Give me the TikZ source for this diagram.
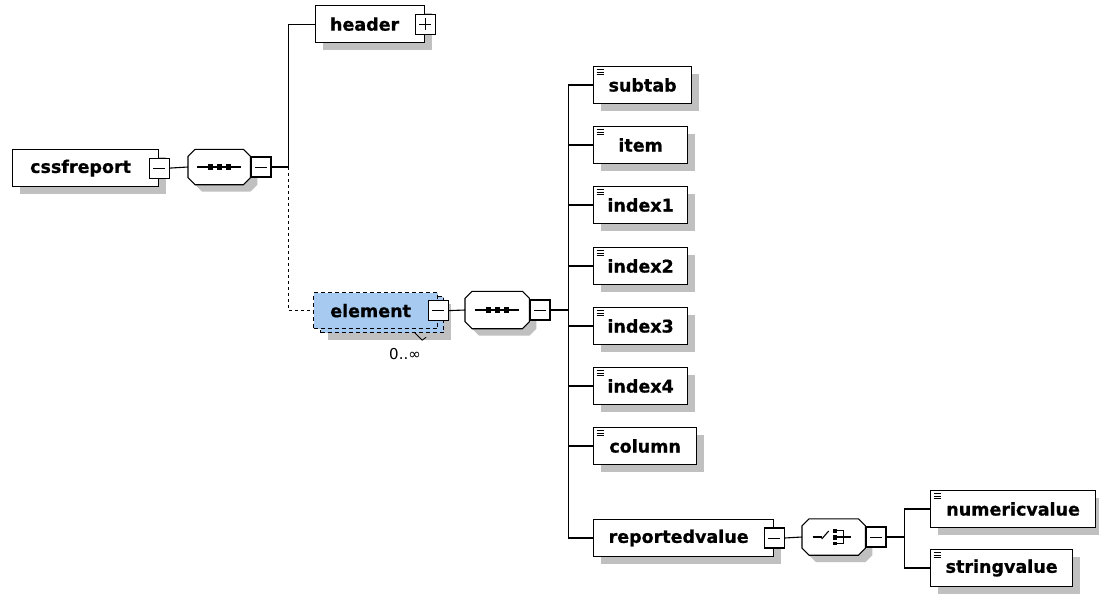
\documentclass[tikz,border=0pt]{standalone}
\usepackage{fontspec}
\usetikzlibrary{shadows}
\newfontfamily\dejavu{DejaVu Sans}
\newfontfamily\boxfnt{DejaVu Sans}[BoldFeatures={FakeBold=0.8}]
\definecolor{shadowgray}{HTML}{C0C0C0}
\definecolor{eblue}{HTML}{A6CAF0}
\tikzset{
  shadowed/.style={drop shadow={shadow xshift=7pt,shadow yshift=-7pt,opacity=1,fill=shadowgray}},
  ebase/.style={draw, fill=white, line width=1.2pt, minimum height=37pt, inner sep=0pt,
    font=\boxfnt\bfseries\fontsize{17.5pt}{20pt}\selectfont},
  ebox/.style={ebase, shadowed},
  leaf/.style={ebox, path picture={
      \foreach \k in {3,5.5,8}
        \draw[line width=0.9pt] ([xshift=3pt,yshift=-\k pt]path picture bounding box.north west) -- ++(7pt,0pt);}},
  minus/.style={draw, fill=white, line width=1.1pt, minimum size=20pt, inner sep=0pt,
    path picture={\draw[line width=1pt] ([xshift=4pt]path picture bounding box.west) -- ([xshift=-4pt]path picture bounding box.east);}},
  plus/.style={draw, fill=white, line width=1.1pt, minimum size=20pt, inner sep=0pt,
    path picture={\draw[line width=1pt] ([xshift=4pt]path picture bounding box.west) -- ([xshift=-4pt]path picture bounding box.east);
      \draw[line width=1pt] ([yshift=-4pt]path picture bounding box.north) -- ([yshift=4pt]path picture bounding box.south);}},
  octframe/.style={rectangle, draw=none, inner sep=0pt},
  conn/.style={line width=1.1pt},
  icon/.style={line width=1.1pt},
  edash/.style={dash pattern=on 4pt off 3pt},
}
% octagon outline + shadow around an (invisible) rectangular node
\newcommand\octpath[1]{([xshift=7pt]#1.north west) -- ([xshift=-7pt]#1.north east) -- ([yshift=-7pt]#1.north east) -- ([yshift=7pt]#1.south east) -- ([xshift=-7pt]#1.south east) -- ([xshift=7pt]#1.south west) -- ([yshift=7pt]#1.south west) -- ([yshift=-7pt]#1.north west) -- cycle}
\newcommand\drawoct[1]{%
  \fill[shadowgray, transform canvas={shift={(7pt,-7pt)}}] \octpath{#1};
  \draw[fill=white, line width=1.1pt] \octpath{#1};}
\newcommand\seqicon[1]{%
  \draw[icon] ([xshift=-22pt]#1.center) -- ([xshift=22pt]#1.center);
  \foreach \dx in {-9,0,9}
    \fill ([shift={({\dx pt-2.5pt},-3pt)}]#1.center) rectangle ([shift={({\dx pt+2.5pt},3pt)}]#1.center);}
\newcommand\choiceicon[1]{%
  \draw[icon] ([xshift=-21pt]#1.center) -- ([xshift=-12pt]#1.center);
  \draw[icon] ([shift={(-12pt,-2pt)}]#1.center) -- ([shift={(-5pt,6pt)}]#1.center);
  \fill ([shift={(-0.5pt,4.5pt)}]#1.center) rectangle ([shift={(3pt,8pt)}]#1.center);
  \fill ([shift={(-0.5pt,-2.5pt)}]#1.center) rectangle ([shift={(3pt,2.5pt)}]#1.center);
  \fill ([shift={(-0.5pt,-8pt)}]#1.center) rectangle ([shift={(3pt,-4.5pt)}]#1.center);
  \draw[icon] ([shift={(3.5pt,6.5pt)}]#1.center) -| ([shift={(9.5pt,-6.5pt)}]#1.center) -- ([shift={(3.5pt,-6.5pt)}]#1.center);
  \draw[icon] ([xshift=3.5pt]#1.center) -- ([xshift=17.5pt]#1.center);}
\begin{document}
\begin{tikzpicture}[x=1pt, y=-1pt]
\fill[white] (0,0) rectangle (1099,594);
\useasboundingbox (0,0) rectangle (1099,594);

% root
\node[ebox, anchor=north west, minimum width=146pt] (cssf) at (12,149) {cssfreport\kern10pt};
\node[minus] (m0) at (cssf.east) {};
\node[octframe, anchor=west, minimum width=62pt, minimum height=35pt] (seq1) at (188,167) {};
\drawoct{seq1}
\seqicon{seq1}
\node[minus, anchor=west] (m1) at (seq1.east) {};

% header
\node[ebox, anchor=north west, minimum width=109pt] (header) at (315,5) {header\kern11pt};
\node[plus] (p1) at (header.east) {};

% element (multiple occurrences)
\node[ebase, edash, fill=eblue, anchor=north west, minimum width=123pt, minimum height=36pt, shadowed] (elback) at (320,296) {};
\node[ebase, edash, fill=eblue, anchor=north west, minimum width=124pt, minimum height=36pt] (elem) at (313,292) {element\kern10pt};
\node[minus] (m2) at (elem.east) {};
\node[inner sep=0pt, font=\dejavu\fontsize{15pt}{17pt}\selectfont] (occ) at (405,354) {0..∞};
\draw[line width=0.8pt] ([xshift=-30pt,yshift=1pt]elback.south east) -- ++(8pt,-8pt) -- ++(4pt,3pt);

\node[octframe, anchor=west, minimum width=64pt, minimum height=37pt] (seq2) at (465,310) {};
\drawoct{seq2}
\seqicon{seq2}
\node[minus, anchor=west] (m3) at (seq2.east) {};

% children
\node[leaf, anchor=west, minimum width=98pt] (subtab) at (593,85) {subtab};
\node[leaf, anchor=west, minimum width=94pt] (item) at (593,145) {item};
\node[leaf, anchor=west, minimum width=94pt] (index1) at (593,205) {index1};
\node[leaf, anchor=west, minimum width=94pt] (index2) at (593,266) {index2};
\node[leaf, anchor=west, minimum width=94pt] (index3) at (593,326) {index3};
\node[leaf, anchor=west, minimum width=94pt] (index4) at (593,386) {index4};
\node[leaf, anchor=west, minimum width=103pt] (column) at (593,446) {column};
\node[ebox, anchor=west, minimum width=180pt] (rv) at (593,538) {reportedvalue\kern10pt};
\node[minus] (m4) at (rv.east) {};
\node[octframe, anchor=west, minimum width=63pt, minimum height=36pt] (choice) at (802,537) {};
\drawoct{choice}
\choiceicon{choice}
\node[minus, anchor=west] (m5) at (choice.east) {};

\node[leaf, anchor=west, minimum width=165pt] (numericvalue) at (930,509) {numericvalue};
\node[leaf, anchor=west, minimum width=142pt] (stringvalue) at (930,568) {stringvalue};

% connectors
\draw[conn] (m0.east) -- (seq1.west);
\coordinate (j1) at ([xshift=17pt]m1.east);
\draw[conn] (m1.east) -- (j1) |- (header.west);
\draw[conn, dashed] (j1) |- (elem.west);
\draw[conn] (m2.east) -- (seq2.west);
\coordinate (j2) at ([xshift=18pt]m3.east);
\draw[conn] (m3.east) -- (j2);
\foreach \c in {subtab,item,index1,index2,index3,index4,column,rv}
  \draw[conn] (j2) |- (\c.west);
\draw[conn] (m4.east) -- (choice.west);
\coordinate (j3) at ([xshift=18pt]m5.east);
\draw[conn] (m5.east) -- (j3);
\foreach \c in {numericvalue,stringvalue}
  \draw[conn] (j3) |- (\c.west);
\end{tikzpicture}
\end{document}
